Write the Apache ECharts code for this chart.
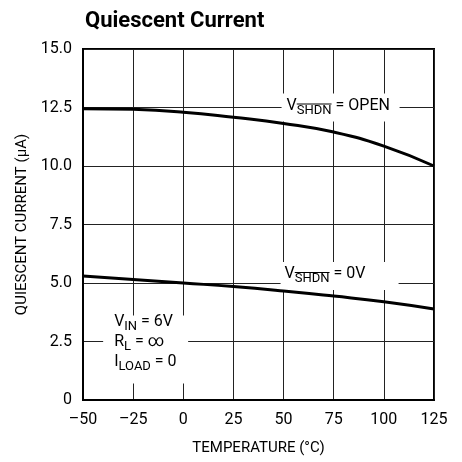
<!DOCTYPE html>
<html>
<head>
<meta charset="utf-8">
<script src="https://cdn.jsdelivr.net/npm/echarts@6/dist/echarts.min.js"></script>
<style>
  html, body { margin: 0; padding: 0; background: #fff; }
  #chart { width: 462px; height: 462px; }
</style>
</head>
<body>
<div id="chart"></div>
<script>
const temps = [-50, -25, 0, 25, 50, 75, 100, 125]
const openCurrent = [12.45, 12.42, 12.3, 12.08, 11.82, 11.45, 10.85, 10.0]
const zeroCurrent = [5.3, 5.15, 5.0, 4.85, 4.66, 4.44, 4.2, 3.89]
const xTickLabels = ['\u201350', '\u201325', '0', '25', '50', '75', '100', '125']
const yTickLabels = ['0', '2.5', '5.0', '7.5', '10.0', '12.5', '15.0']

const FONT = "Roboto, 'Liberation Sans', sans-serif"
const MAIN = 16
const SUB = 13

const chart = echarts.init(document.getElementById('chart'))

chart.setOption({
  animation: false,
  title: {
    text: 'Quiescent Current',
    left: 80,
    top: 5,
    textStyle: { fontFamily: FONT, fontWeight: 'bold', fontSize: 22, color: '#000' }
  },
  grid: {
    left: 83, right: 28, top: 49, bottom: 62,
    show: true, borderColor: '#000', borderWidth: 2
  },
  xAxis: {
    type: 'value',
    min: -50, max: 125, interval: 25,
    name: 'TEMPERATURE (\u00B0C)',
    nameLocation: 'middle',
    nameGap: 41,
    nameTextStyle: { fontFamily: FONT, fontSize: 15, color: '#000' },
    axisLine: { show: true, onZero: false, lineStyle: { color: '#000', width: 2 } },
    axisTick: { show: false },
    splitLine: { show: true, lineStyle: { color: '#222', width: 1 } },
    axisLabel: {
      margin: 12,
      fontFamily: FONT, fontSize: MAIN, color: '#000',
      formatter: v => xTickLabels[temps.indexOf(v)]
    }
  },
  yAxis: {
    type: 'value',
    min: 0, max: 15, interval: 2.5,
    name: 'QUIESCENT CURRENT (\u03BCA)',
    nameLocation: 'middle',
    nameGap: 47,
    nameTextStyle: { fontFamily: FONT, fontSize: 15, color: '#000' },
    axisLine: { show: true, onZero: false, lineStyle: { color: '#000', width: 2 } },
    axisTick: { show: false },
    splitLine: { show: true, lineStyle: { color: '#222', width: 1 } },
    axisLabel: {
      margin: 11,
      fontFamily: FONT, fontSize: MAIN, color: '#000',
      formatter: v => yTickLabels[Math.round(v / 2.5)]
    }
  },
  series: [
    {
      name: 'open', type: 'line', smooth: true, symbol: 'none',
      lineStyle: { color: '#000', width: 3 },
      data: temps.map((t, i) => [t, openCurrent[i]])
    },
    {
      name: '0V', type: 'line', smooth: true, symbol: 'none',
      lineStyle: { color: '#000', width: 3 },
      data: temps.map((t, i) => [t, zeroCurrent[i]])
    }
  ]
})

// measure text for the subscript / overline labels
const ctx = document.createElement('canvas').getContext('2d')
function measure (txt, size) {
  ctx.font = size + 'px ' + FONT
  return ctx.measureText(txt).width
}

// parts: [text, isSub, hasOverline]
function richLabel (x, y, parts) {
  const els = []
  let cx = x
  parts.forEach(p => {
    const size = p[1] ? SUB : MAIN
    const ty = p[1] ? y + 5 : y
    els.push({
      type: 'text', z: 10,
      style: { x: cx, y: ty, text: p[0], font: size + 'px ' + FONT, fill: '#000', align: 'left', verticalAlign: 'middle' }
    })
    const w = measure(p[0], size)
    if (p[2]) {
      els.push({
        type: 'line', z: 10,
        shape: { x1: cx, y1: ty - size * 0.5, x2: cx + w, y2: ty - size * 0.5 },
        style: { stroke: '#000', lineWidth: 1 }
      })
    }
    cx += w
  })
  return els
}

function box (x, y, w, h) {
  return { type: 'rect', z: 1, shape: { x: x, y: y, width: w, height: h }, style: { fill: '#fff' } }
}

const a1 = chart.convertToPixel({ gridIndex: 0 }, [50, 12.5])
const a2 = chart.convertToPixel({ gridIndex: 0 }, [50, 5.0])
const a3 = chart.convertToPixel({ gridIndex: 0 }, [-25, 2.5])

let g = []
g.push(box(a1[0] - 2, a1[1] - 14, 118, 28))
g = g.concat(richLabel(a1[0] + 3, a1[1] - 2, [['V'], ['SHDN', true, true], [' = OPEN']]))
g.push(box(a2[0] - 3, a2[1] - 21, 118, 28))
g = g.concat(richLabel(a2[0] + 1, a2[1] - 9, [['V'], ['SHDN', true, true], [' = 0V']]))
g.push(box(a3[0] - 30, a3[1] - 26, 85, 68))
g = g.concat(richLabel(a3[0] - 19, a3[1] - 20, [['V'], ['IN', true], [' = 6V']]))
g = g.concat(richLabel(a3[0] - 19, a3[1] + 0, [['R'], ['L', true], [' = \u221E']]))
g = g.concat(richLabel(a3[0] - 19, a3[1] + 20, [['I'], ['LOAD', true], [' = 0']]))

chart.setOption({ graphic: { elements: g } })
</script>
</body>
</html>
